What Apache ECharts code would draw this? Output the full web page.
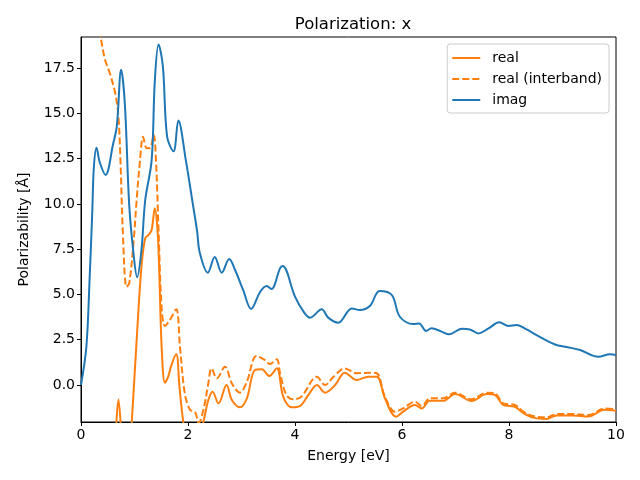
<!DOCTYPE html>
<html>
<head>
<meta charset="utf-8">
<script src="https://cdn.jsdelivr.net/npm/echarts@6/dist/echarts.min.js"></script>
<style>html,body{margin:0;padding:0;background:#fff}#c{width:640px;height:480px}</style>
</head>
<body>
<div id="c"></div>
<script>
const imagE = [0,0.1,0.16,0.21,0.24,0.29,0.35,0.46,0.6,0.67,0.75,0.82,0.9,0.98,1.05,1.13,1.2,1.32,1.38,1.45,1.53,1.61,1.73,1.82,1.96,2.09,2.17,2.22,2.37,2.5,2.63,2.77,2.88,3.03,3.18,3.35,3.47,3.56,3.72,3.77,4.0,4.16,4.28,4.5,4.62,4.81,5.06,5.21,5.4,5.58,5.81,5.96,6.21,6.32,6.45,6.55,6.74,6.88,7.12,7.27,7.43,7.61,7.82,7.99,8.14,8.33,8.55,8.86,9.08,9.33,9.67,9.89,10];
const imagV = [0,2.1,5.8,9.5,12.0,13.1,12.3,11.6,13.3,14.3,17.4,15.5,10.0,7.3,5.95,7.45,10.2,12.4,16.8,18.8,17.6,13.7,12.9,14.6,12.4,10.0,8.5,7.3,6.2,7.07,6.2,6.95,6.35,5.25,4.2,5.15,5.47,5.3,6.44,6.57,4.88,4.05,3.72,4.18,3.72,3.44,4.23,4.14,4.36,5.19,4.97,3.77,3.37,3.4,2.98,3.13,2.95,2.8,3.11,3.07,2.85,3.11,3.46,3.26,3.31,3.07,2.7,2.24,2.1,1.93,1.56,1.7,1.66];

const interE = [0,0.2,0.3,0.37,0.45,0.54,0.64,0.7,0.74,0.78,0.85,0.9,0.98,1.04,1.1,1.16,1.23,1.29,1.36,1.4,1.45,1.51,1.57,1.66,1.78,1.85,1.94,2.04,2.13,2.2,2.3,2.38,2.44,2.54,2.69,2.82,2.97,3.1,3.28,3.44,3.53,3.66,3.72,3.84,3.97,4.12,4.41,4.56,4.72,4.93,5.15,5.4,5.53,5.68,5.87,6.02,6.24,6.37,6.52,6.77,6.99,7.3,7.58,7.74,7.89,8.11,8.27,8.45,8.7,8.89,9.2,9.48,9.79,10];
const interV = [40,25,21,19.2,17.95,17.2,16.1,14.8,12.2,8.6,5.43,5.6,7.8,10.2,12.3,13.7,13.07,13.09,13.8,12.5,8.5,4.14,3.26,3.59,4.18,2.11,-0.46,-1.38,-1.47,-2.1,-1.2,0.09,0.92,0.37,1.01,0.09,-0.42,0.18,1.6,1.38,1.16,1.42,0.66,-0.55,-0.79,-0.64,0.46,0,0.46,0.92,0.65,0.68,0.65,-0.64,-1.47,-1.29,-0.92,-1.16,-0.73,-0.73,-0.42,-0.79,-0.42,-0.46,-1.01,-1.1,-1.47,-1.71,-1.78,-1.6,-1.6,-1.66,-1.29,-1.34];

const realE = [0,0.3,0.6,0.65,0.7,0.75,0.8,0.88,0.95,1.04,1.13,1.2,1.26,1.32,1.38,1.43,1.46,1.51,1.57,1.63,1.69,1.78,1.84,1.91,2.0,2.15,2.29,2.38,2.46,2.57,2.72,2.82,2.97,3.1,3.25,3.38,3.52,3.66,3.78,3.94,4.09,4.25,4.41,4.56,4.75,4.93,5.15,5.37,5.53,5.68,5.89,6.02,6.24,6.37,6.52,6.77,6.99,7.3,7.58,7.74,7.89,8.11,8.27,8.45,8.7,8.89,9.2,9.48,9.79,10];
const realV = [-60,-20,-5,-2.6,-0.8,-2.6,-6,-5,-2.0,2.48,6.53,8.1,8.28,8.56,9.75,8.56,6.53,1.93,0.13,0.46,1.1,1.71,-0.09,-2.0,-3.5,-3.5,-2.0,-0.83,-0.37,-1.01,0.0,-0.83,-1.23,-0.73,0.83,0.87,0.5,0.92,-0.64,-1.23,-1.16,-0.55,0,-0.42,0,0.68,0.28,0.46,0.46,-0.73,-1.75,-1.47,-1.1,-1.29,-0.87,-0.87,-0.5,-0.88,-0.5,-0.55,-1.1,-1.2,-1.55,-1.8,-1.87,-1.68,-1.68,-1.74,-1.37,-1.42];

const yTicks = [0,2.5,5,7.5,10,12.5,15,17.5];
const xTicks = [0,2,4,6,8,10];

const pairs = (e, v) => e.map((x, i) => [x, v[i]]);
const FONT = 'DejaVu Sans';
const chart = echarts.init(document.getElementById('c'), null, {renderer: 'canvas'});
chart.setOption({
  animation: false,
  backgroundColor: '#ffffff',
  textStyle: {fontFamily: FONT},
  title: {
    text: 'Polarization: x',
    left: 348, top: 11, textAlign: 'center',
    textStyle: {fontFamily: FONT, fontSize: 16.5, fontWeight: 'normal', color: '#000'}
  },
  grid: {left: 81, right: 24, top: 37, bottom: 58, show: true, borderColor: '#000', borderWidth: 1, backgroundColor: 'transparent'},
  legend: {
    orient: 'vertical', right: 31, top: 44,
    itemWidth: 28, itemHeight: 10, itemGap: 7,
    padding: [7, 7, 6, 4],
    borderColor: '#cccccc', borderWidth: 1, borderRadius: 3,
    backgroundColor: 'rgba(255,255,255,0.8)',
    itemStyle: {opacity: 0},
    textStyle: {fontFamily: FONT, fontSize: 14, color: '#000', padding: [0, 0, 0, 7]},
    data: ['real', 'real (interband)', 'imag']
  },
  xAxis: {
    type: 'value', min: 0, max: 10, interval: 2,
    name: 'Energy [eV]', nameLocation: 'middle', nameGap: 27,
    nameTextStyle: {fontFamily: FONT, fontSize: 14, color: '#000'},
    axisLine: {show: true, onZero: false, lineStyle: {color: '#000', width: 1}},
    axisTick: {show: true, inside: false, length: 4, lineStyle: {color: '#000'}},
    axisLabel: {color: '#000', fontFamily: FONT, fontSize: 14, margin: 6, customValues: xTicks},
    splitLine: {show: false}
  },
  yAxis: {
    type: 'value', min: -2.04, max: 19.21,
    name: 'Polarizability [Å]', nameLocation: 'middle', nameGap: 50, nameRotate: 90,
    nameTextStyle: {fontFamily: FONT, fontSize: 14, color: '#000'},
    axisLine: {show: true, onZero: false, lineStyle: {color: '#000', width: 1}},
    axisTick: {show: true, inside: false, length: 4, lineStyle: {color: '#000'}, customValues: yTicks},
    axisLabel: {color: '#000', fontFamily: FONT, fontSize: 14, margin: 6, customValues: yTicks,
      formatter: v => Number(v).toFixed(1)},
    splitLine: {show: false}
  },
  series: [
    {name: 'real', type: 'line', data: pairs(realE, realV), showSymbol: false, symbol: 'none', smooth: 0.35, clip: true,
      lineStyle: {color: '#ff7f0e', width: 2}, itemStyle: {color: '#ff7f0e'}},
    {name: 'real (interband)', type: 'line', data: pairs(interE, interV), showSymbol: false, symbol: 'none', smooth: 0.35, clip: true,
      lineStyle: {color: '#ff7f0e', width: 2, type: [7, 3]}, itemStyle: {color: '#ff7f0e'}},
    {name: 'imag', type: 'line', data: pairs(imagE, imagV), showSymbol: false, symbol: 'none', smooth: 0.35, clip: true,
      lineStyle: {color: '#1f77b4', width: 2}, itemStyle: {color: '#1f77b4'}}
  ]
});
</script>
</body>
</html>
